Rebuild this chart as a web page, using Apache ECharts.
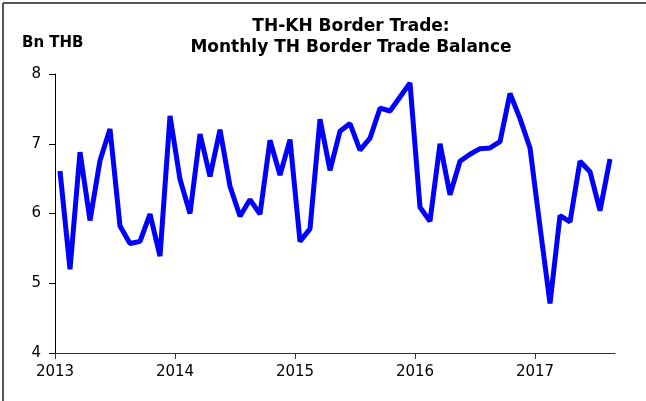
<!DOCTYPE html>
<html>
<head>
<meta charset="utf-8">
<script src="https://cdn.jsdelivr.net/npm/echarts@6/dist/echarts.min.js"></script>
<style>
html,body{margin:0;padding:0;background:#fff;}
#chart{width:646px;height:401px;}
</style>
</head>
<body>
<div id="chart"></div>
<script>
// Monthly TH border trade balance with KH, Bn THB, Jan 2013 - Aug 2017
var yearLabels = ['2013', '2014', '2015', '2016', '2017'];
var monthsPerYear = 12;
var balance = [
  6.61, 5.20, 6.88, 5.90, 6.76, 7.21, 5.82, 5.57, 5.60, 5.99, 5.39, 7.40,
  6.49, 6.00, 7.14, 6.53, 7.20, 6.39, 5.96, 6.20, 5.99, 7.05, 6.55, 7.06,
  5.60, 5.78, 7.35, 6.62, 7.18, 7.29, 6.91, 7.08, 7.51, 7.47, 7.67, 7.87,
  6.09, 5.89, 7.00, 6.27, 6.75, 6.85, 6.93, 6.94, 7.03, 7.72, 7.36, 6.94,
  5.81, 4.71, 5.97, 5.88, 6.75, 6.60, 6.04, 6.78
];
var yTicks = [4, 5, 6, 7, 8];

var points = balance.map(function (v, i) { return [i + 0.5, v]; });
var yearTickValues = yearLabels.map(function (y, i) { return i * monthsPerYear; });
var xMax = balance.length;

var chart = echarts.init(document.getElementById('chart'), null, { renderer: 'canvas' });
var FONT = 'DejaVu Sans';
chart.setOption({
  backgroundColor: '#ffffff',
  animation: false,
  title: {
    text: 'TH-KH Border Trade:\nMonthly TH Border Trade Balance',
    left: 346,
    top: 11,
    textAlign: 'center',
    textStyle: { fontFamily: FONT, fontSize: 17, fontWeight: 'bold', color: '#000', lineHeight: 21 }
  },
  graphic: [
    { type: 'line', shape: { x1: 3, y1: 3, x2: 646, y2: 3 }, style: { stroke: '#555', lineWidth: 2 } },
    { type: 'line', shape: { x1: 3, y1: 3, x2: 3, y2: 401 }, style: { stroke: '#555', lineWidth: 2 } },
    { type: 'text', left: 22, top: 36, style: { text: 'Bn THB', font: 'bold 15px "DejaVu Sans"', fill: '#000' } }
  ],
  grid: { left: 55, right: 31, top: 74, bottom: 48, containLabel: false },
  xAxis: {
    type: 'value',
    min: 0,
    max: xMax,
    interval: monthsPerYear,
    splitLine: { show: false },
    axisLine: { lineStyle: { color: '#333', width: 1 } },
    axisTick: { show: true, length: 6, lineStyle: { color: '#333' }, customValues: yearTickValues },
    axisLabel: {
      customValues: yearTickValues,
      margin: 12,
      fontFamily: FONT, fontSize: 15, color: '#000',
      formatter: function (v) { return yearLabels[Math.round(v / monthsPerYear)] || ''; }
    }
  },
  yAxis: {
    type: 'value',
    min: yTicks[0],
    max: yTicks[yTicks.length - 1],
    interval: 1,
    splitLine: { show: false },
    axisLine: { show: true, lineStyle: { color: '#000', width: 1 } },
    axisTick: { show: true, length: 6, lineStyle: { color: '#000' } },
    axisLabel: { margin: 14, fontFamily: FONT, fontSize: 15, color: '#000' }
  },
  series: [{
    type: 'line',
    data: points,
    symbol: 'none',
    lineStyle: { color: '#0000ff', width: 5 },
    silent: true
  }]
});
</script>
</body>
</html>
